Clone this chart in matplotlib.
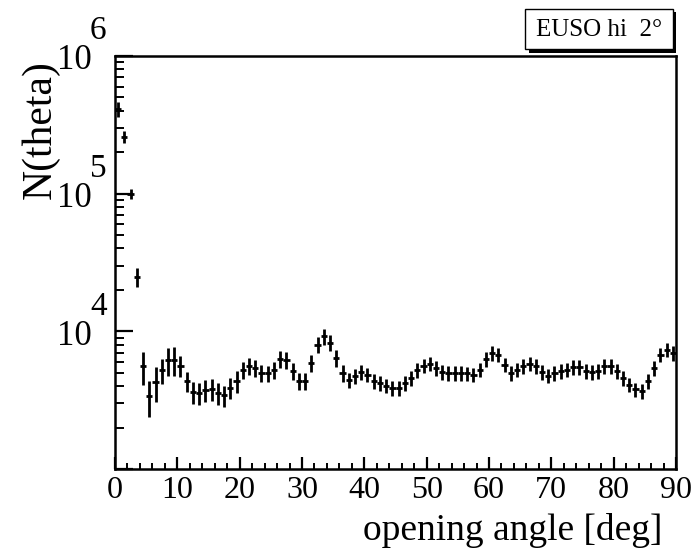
import matplotlib
matplotlib.use("Agg")
import matplotlib.pyplot as plt
import matplotlib.transforms as mtransforms
from matplotlib.patches import Rectangle
from matplotlib.ticker import MultipleLocator, LogLocator, NullFormatter
import numpy as np

plt.rcParams['font.family'] = ['Liberation Serif', 'DejaVu Serif']

# opening angle histogram, 1 degree bins from 0 to 90
bin_lo = np.arange(0, 90)
counts = [410000, 260000, 100000, 25000, 5570, 3380, 4270, 5210, 6170, 6240,
          5640, 4350, 3610, 3580, 3730, 3830, 3570, 3420, 3900, 4350,
          5270, 5570, 5430, 5000, 4940, 5270, 6310, 6240, 5130, 4350,
          4350, 5900, 8010, 9200, 8240, 6410, 5000, 4420, 4720, 5050,
          4850, 4350, 4230, 4040, 3890, 3890, 4180, 4590, 5210, 5640,
          5830, 5430, 5050, 5000, 5000, 5000, 4940, 4850, 5270, 6310,
          6970, 6770, 5740, 5000, 5270, 5570, 5830, 5570, 5050, 4770,
          5000, 5130, 5270, 5500, 5520, 5130, 5050, 5130, 5570, 5570,
          5130, 4590, 4100, 3780, 3670, 4350, 5430, 6770, 7360, 6970]
errors = [50000, 26000, 9000, 4000, 1500, 1000, 1200, 1100, 1400, 1500,
          950, 730, 650, 650, 670, 690, 640, 620, 700, 780,
          740, 780, 760, 700, 690, 740, 880, 870, 720, 610,
          610, 830, 1100, 1200, 1100, 900, 700, 560, 590, 620,
          600, 540, 520, 500, 480, 480, 520, 570, 640, 690,
          710, 660, 620, 610, 610, 610, 600, 590, 640, 760,
          840, 820, 700, 610, 640, 680, 710, 680, 620, 580,
          610, 620, 640, 670, 670, 620, 610, 620, 680, 680,
          620, 560, 500, 460, 450, 530, 660, 820, 890, 840]
ytick_exp = [4, 5, 6]
label_text = "EUSO hi  2\u00b0"

W, H = 694, 555
fig = plt.figure(figsize=(W / 100, H / 100), dpi=100)
ax = fig.add_axes([115 / W, 1 - 469 / H, (676 - 115) / W, (469 - 56) / H])

centers = bin_lo + 0.5
ax.errorbar(centers, counts, yerr=errors, xerr=0.5, fmt='none',
            ecolor='black', elinewidth=2.0, capsize=0)

ax.set_yscale('log')
ax.set_xlim(0, 90)
ax.set_ylim(1000, 1e6)

for side in ['left', 'bottom', 'top', 'right']:
    ax.spines[side].set_linewidth(1.8)

ax.xaxis.set_major_locator(MultipleLocator(10))
ax.xaxis.set_minor_locator(MultipleLocator(2))
ax.yaxis.set_major_locator(LogLocator(base=10))
ax.yaxis.set_minor_locator(LogLocator(base=10, subs=np.arange(2, 10)))
ax.yaxis.set_major_formatter(NullFormatter())
ax.yaxis.set_minor_formatter(NullFormatter())

ax.tick_params(axis='x', which='major', direction='in', length=8.5, width=1.6,
               labelsize=23, pad=5)
ax.tick_params(axis='x', which='minor', direction='in', length=4.3, width=1.4)
ax.tick_params(axis='y', which='major', direction='in', length=13, width=1.6)
ax.tick_params(axis='y', which='minor', direction='in', length=6.5, width=1.4)

# y tick labels in ROOT style: "10" with a large exponent above
trans = mtransforms.blended_transform_factory(ax.transAxes, ax.transData)
for e in ytick_exp:
    ax.annotate("10", xy=(0, 10.0 ** e), xycoords=trans,
                xytext=(-16.5, -9.5), textcoords='offset points',
                ha='right', va='baseline', fontsize=25)
    ax.annotate(str(e), xy=(0, 10.0 ** e), xycoords=trans,
                xytext=(-18, 7), textcoords='offset points',
                ha='left', va='bottom', fontsize=24)

fig.text(662 / W, 1 - 540 / H, "opening angle [deg]", ha='right',
         va='baseline', fontsize=27)
fig.text(40 / W, 1 - 60 / H, "N(theta)", ha='center', va='top',
         rotation=90, fontsize=30)

# stats box with drop shadow
fig.patches.append(Rectangle((529 / W, 1 - 53 / H), 147 / W, 41 / H,
                             transform=fig.transFigure, facecolor='black',
                             edgecolor='none', zorder=5))
fig.patches.append(Rectangle((525 / W, 1 - 49 / H), 148 / W, 40 / H,
                             transform=fig.transFigure, facecolor='white',
                             edgecolor='black', linewidth=1.0, zorder=6))
fig.text(599 / W, 1 - 30 / H, label_text, ha='center', va='center',
         fontsize=18, zorder=7)

fig.savefig("out.png", dpi=100)
